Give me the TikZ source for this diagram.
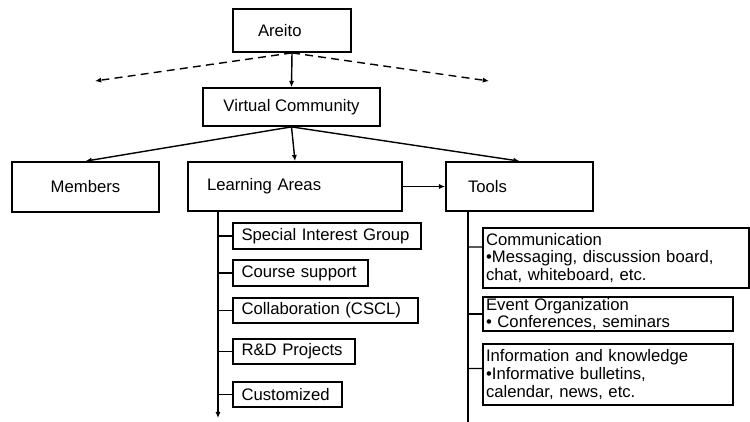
\documentclass[tikz,border=0pt]{standalone}
\usepackage{fontspec}
\setmainfont{Liberation Sans}
\usetikzlibrary{arrows.meta}

\begin{document}
\begin{tikzpicture}[x=0.02cm,y=-0.02cm,
          box/.style={draw,line width=1pt,inner ysep=0pt,align=left,font=\fontsize{9.5}{10}\selectfont},
          cbox/.style={draw,line width=1pt,inner sep=0pt,font=\fontsize{9.5}{10}\selectfont},
          link/.style={line width=0.8pt},
          >={Latex[length=3.5pt,width=3pt]}]
          \useasboundingbox (0,0) rectangle (750,422);
          \node[box,text width=1.36cm,inner xsep=0.5cm,minimum height=0.86cm] (areito) at (292,30.5) {Areito};
          \node[cbox,minimum width=3.54cm,minimum height=0.76cm] (vc) at (291.5,107) {Virtual Community};
          \node[cbox,minimum width=2.94cm,minimum height=1cm] (members) at (85.5,187) {Members};
          \node[box,text width=3.52cm,inner xsep=0.38cm,minimum height=0.98cm] (learn) at (295,186.5) {Learning Areas};
          \node[box,text width=2.06cm,inner xsep=0.44cm,minimum height=0.98cm] (tools) at (519.5,186.5) {Tools};
          \node[box,text width=3.42cm,inner xsep=0.17cm,minimum height=0.52cm] (sig) at (327,236) {Special Interest Group};
          \node[box,text width=2.36cm,inner xsep=0.17cm,minimum height=0.52cm] (course) at (300.5,273) {Course support};
          \node[box,text width=3.36cm,inner xsep=0.17cm,minimum height=0.5cm] (collab) at (325.5,310.5) {Collaboration (CSCL)};
          \node[box,text width=2.1cm,inner xsep=0.17cm,minimum height=0.5cm] (rd) at (294,351.5) {R\&D Projects};
          \node[box,text width=1.84cm,inner xsep=0.17cm,minimum height=0.5cm] (custom) at (287.5,394.5) {Customized};
          \node[box,text width=5.2cm,inner xsep=0.06cm,minimum height=1.2cm] (comm) at (616,258) {Communication\\\textbullet Messaging, discussion board,\\chat, whiteboard, etc.};
          \node[box,text width=4.88cm,inner xsep=0.06cm,minimum height=0.68cm] (event) at (608,314) {Event Organization\\\textbullet{} Conferences, seminars};
          \node[box,text width=4.88cm,inner xsep=0.06cm,minimum height=1.22cm] (info) at (608,374.5) {Information and knowledge\\\textbullet Informative bulletins,\\calendar, news, etc.};
          \coordinate (left) at (95,81);
          \coordinate (right) at (489,81);
          \coordinate (ltop) at (218,211);
          \coordinate (lbot) at (218,418);
          \coordinate (ttop) at (468,211);
          \coordinate (tbot) at (468,422);
          \draw[link,->,dash pattern=on 4.5pt off 3pt] (areito.south) -- (left);
          \draw[link,->,dash pattern=on 4.5pt off 3pt] (areito.south) -- (right);
          \draw[link,->] (areito.south) -- (vc.north);
          \draw[link,->] (vc.south) -- (members.north);
          \draw[link,->] (vc.south) -- (learn.north);
          \draw[link,->] (vc.south) -- (tools.north);
          \draw[link,->] (learn.east) -- (tools.west);
          \draw[link,->] (ltop) -- (lbot);
          \draw[link] (ttop) -- (tbot);
          \foreach \b in {sig,course,collab,rd,custom}
            \draw[link] (ltop |- \b.west) -- (\b.west);
          \draw[link] (ttop |- comm.west) ++(0,-11) -- ([yshift=0.22cm]comm.west);
          \draw[link] (ttop |- event.west) -- (event.west);
          \draw[link] (ttop |- info.west) ++(0,-6) -- ([yshift=0.12cm]info.west);
        \end{tikzpicture}
\end{document}
